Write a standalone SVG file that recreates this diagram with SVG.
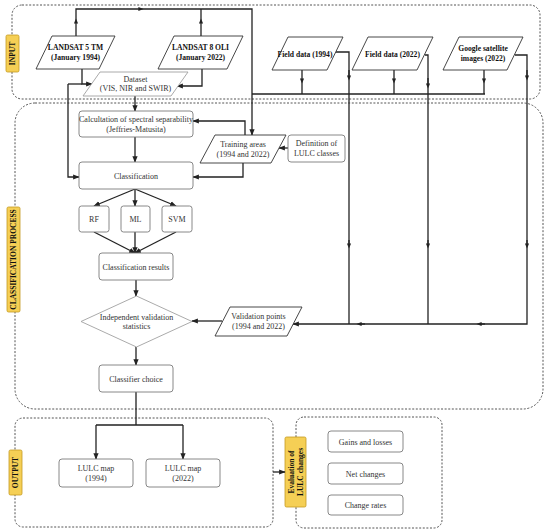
<svg xmlns="http://www.w3.org/2000/svg" width="550" height="532" viewBox="0 0 550 532">
<defs>
<marker id="ah" viewBox="0 0 10 10" refX="9" refY="5" markerWidth="5" markerHeight="5" orient="auto" markerUnits="strokeWidth">
<path d="M0,1 L10,5 L0,9 z" fill="#222"/>
</marker>
<marker id="as" viewBox="0 0 10 10" refX="5" refY="5" markerWidth="4" markerHeight="4" orient="auto" markerUnits="strokeWidth">
<path d="M0,1 L10,5 L0,9 z" fill="#222"/>
</marker>
</defs>
<style>
.cont{fill:none;stroke:#555;stroke-width:1;stroke-dasharray:2,1.6}
.lab{fill:#F5CF55;stroke:#C49A22;stroke-width:0.8}
.labt{font-family:"Liberation Serif","Times New Roman",serif;font-weight:bold;font-size:7.5px;fill:#111;text-anchor:middle}
.box{fill:#fff;stroke:#7a7a7a;stroke-width:0.9}
.lbox{fill:#fff;stroke:#a0a0a0;stroke-width:0.9}
.par{fill:#fff;stroke:#333;stroke-width:0.9;stroke-linejoin:round}
.t{font-family:"Liberation Serif","Times New Roman",serif;font-size:8px;fill:#333;text-anchor:middle}
.tb{font-family:"Liberation Serif","Times New Roman",serif;font-size:7.6px;font-weight:bold;fill:#111;text-anchor:middle}
.c{fill:none;stroke:#222;stroke-width:1.3}
.ca{fill:none;stroke:#222;stroke-width:1.3;marker-end:url(#ah)}
.cm{fill:none;stroke:#222;stroke-width:1.3;marker-end:url(#as)}
</style>

<!-- containers -->
<g id="containers">
<rect class="cont" x="12" y="5" width="528" height="94" rx="10"/>
<rect class="cont" x="15" y="103" width="528" height="306" rx="20"/>
<rect class="cont" x="15" y="418" width="258" height="109" rx="8"/>
<rect class="cont" x="296" y="417" width="146" height="111" rx="8"/>
</g>

<!-- section labels -->
<g id="label-input">
<rect class="lab" x="6" y="35" width="13" height="37" rx="1.5"/>
<text class="labt" transform="translate(15.2,53.5) rotate(-90)">INPUT</text>
</g>
<g id="label-classification">
<rect class="lab" x="7" y="207" width="13" height="105" rx="1.5"/>
<text class="labt" transform="translate(16.2,259.5) rotate(-90)">CLASSIFICATION  PROCESS</text>
</g>
<g id="label-output">
<rect class="lab" x="9" y="450" width="13" height="45" rx="1.5"/>
<text class="labt" transform="translate(18.2,472.5) rotate(-90)">OUTPUT</text>
</g>
<g id="label-evaluation">
<rect class="lab" x="285" y="437" width="21" height="70" rx="1.5"/>
<text class="labt" transform="translate(294,472) rotate(-90)">Evaluation of</text>
<text class="labt" transform="translate(302.5,472) rotate(-90)">LULC changes</text>
</g>

<!-- connectors -->
<g id="connectors">
<path class="cm" d="M76,36 V21"/><path class="c" d="M76,21 V9 H140"/>
<path class="cm" d="M140,9 H141"/>
<path class="c" d="M141,9 H252 V120"/>
<path class="ca" d="M252,120 V135"/>
<path class="cm" d="M201,36 V21"/><path class="c" d="M201,21 V9"/>
<path class="ca" d="M82,69 V84 H92"/>
<path class="c" d="M68,84 H82"/>
<path class="ca" d="M68,84 V177 H79"/>
<path class="ca" d="M202,69 V86 H177"/>
<path class="ca" d="M135,96 V111"/>
<path class="ca" d="M135,137 V162"/>
<path class="ca" d="M245,135 V121 H193"/>
<path class="ca" d="M243,163 V177 H193"/>
<path class="ca" d="M288,148 H279"/>
<path class="ca" d="M135,189 L94,206"/>
<path class="ca" d="M135,189 V206"/>
<path class="ca" d="M135,189 L176,206"/>
<path class="ca" d="M94,232 L135,253"/>
<path class="ca" d="M135,232 V253"/>
<path class="ca" d="M176,232 L135,253"/>
<path class="ca" d="M136,280 V296"/>
<path class="ca" d="M136,347 V365"/>
<path class="ca" d="M222,321 H192"/>
<path class="c" d="M136,392 V425 M96,425 H183"/>
<path class="ca" d="M96,425 V459"/>
<path class="ca" d="M183,425 V459"/>
<path class="c" d="M252,94 H485"/>
<path class="cm" d="M302,70 V81"/><path class="c" d="M302,81 V94"/>
<path class="cm" d="M394,70 V81"/><path class="c" d="M394,81 V94"/>
<path class="cm" d="M484,70 V81"/><path class="c" d="M484,81 V94"/>
<path class="c" d="M336,52 H349 V77"/><path class="cm" d="M349,70 V78"/><path class="c" d="M349,78 V245"/><path class="cm" d="M349,240 V246"/><path class="c" d="M349,246 V324"/>
<path class="c" d="M425,55 H428 V85"/><path class="cm" d="M428,78 V86"/><path class="c" d="M428,86 V245"/><path class="cm" d="M428,240 V246"/><path class="c" d="M428,246 V324"/>
<path class="c" d="M515,55 H527 V77"/><path class="cm" d="M527,70 V78"/><path class="c" d="M527,78 V245"/><path class="cm" d="M527,240 V246"/><path class="c" d="M527,246 V324 H480"/>
<path class="cm" d="M485,324 H479"/>
<path class="c" d="M479,324 H360"/>
<path class="cm" d="M365,324 H359"/>
<path class="ca" d="M359,324 H293"/>
<path class="ca" d="M273,472 H285"/>
</g>

<!-- nodes -->
<g id="landsat5">
<polygon class="par" points="52,36 115,36 99,69 36,69"/>
<text class="tb" x="75.5" y="50">LANDSAT 5 TM</text>
<text class="tb" x="75.5" y="60">(January 1994)</text>
</g>
<g id="landsat8">
<polygon class="par" points="174,36 243,36 227,69 158,69"/>
<text class="tb" x="200.5" y="50">LANDSAT 8 OLI</text>
<text class="tb" x="200.5" y="60">(January 2022)</text>
</g>
<g id="field1994">
<polygon class="par" points="288,37 343,37 327,70 272,70"/>
<text class="tb" x="305" y="56.5" font-size="7.2">Field data (1994)</text>
</g>
<g id="field2022">
<polygon class="par" points="368,37 433,37 417,70 352,70"/>
<text class="tb" x="392.5" y="56.5" font-size="7.2">Field data (2022)</text>
</g>
<g id="google">
<polygon class="par" points="459,37 523,37 507,70 443,70"/>
<text class="tb" x="483" y="51" font-size="7.2">Google  satellite</text>
<text class="tb" x="483" y="61" font-size="7.2">images (2022)</text>
</g>
<g id="dataset">
<polygon class="lbox" stroke-linejoin="round" points="100,72 188,72 171,96 83,96"/>
<text class="t" x="135.5" y="82">Dataset</text>
<text class="t" x="135.5" y="91">(VIS, NIR and SWIR)</text>
</g>
<g id="separability">
<rect class="box" x="79" y="111" width="114" height="26" rx="3"/>
<text class="t" x="136" y="122">Calcultation of spectral separability</text>
<text class="t" x="136" y="131.5">(Jeffries-Matusita)</text>
</g>
<g id="training">
<polygon class="par" stroke="#555" points="215,135 286,135 271,163 200,163"/>
<text class="t" x="243" y="147">Training areas</text>
<text class="t" x="243" y="157">(1994 and 2022)</text>
</g>
<g id="definition">
<rect class="box" x="288" y="135" width="57" height="27" rx="3"/>
<text class="t" x="316.5" y="146">Definition of</text>
<text class="t" x="316.5" y="155.5">LULC classes</text>
</g>
<g id="classification">
<rect class="box" x="79" y="162" width="114" height="27" rx="3"/>
<text class="t" x="136" y="178.5">Classification</text>
</g>
<g id="rf">
<rect class="box" x="79" y="206" width="30" height="26" rx="2.5"/>
<text class="t" x="94" y="222">RF</text>
</g>
<g id="ml">
<rect class="box" x="121" y="206" width="29" height="26" rx="2.5"/>
<text class="t" x="135.5" y="222">ML</text>
</g>
<g id="svm">
<rect class="box" x="162" y="206" width="30" height="26" rx="2.5"/>
<text class="t" x="177" y="222">SVM</text>
</g>
<g id="results">
<rect class="box" x="99" y="253" width="74" height="27" rx="3"/>
<text class="t" x="136" y="269.5">Classification results</text>
</g>
<g id="validation-stats">
<polygon class="lbox" points="136.5,296 192,321.5 136.5,347 81,321.5"/>
<text class="t" x="136.5" y="320">Independent validation</text>
<text class="t" x="136.5" y="329">statistics</text>
</g>
<g id="validation-points">
<polygon class="par" stroke="#555" points="230,307 302,307 287,336 215,336"/>
<text class="t" x="258.5" y="319">Validation points</text>
<text class="t" x="258.5" y="329">(1994 and 2022)</text>
</g>
<g id="classifier-choice">
<rect class="box" x="99" y="365" width="74" height="27" rx="3"/>
<text class="t" x="136" y="381.5">Classifier choice</text>
</g>
<g id="lulc1994">
<rect class="box" x="59" y="459" width="74" height="28" rx="3"/>
<text class="t" x="96" y="471">LULC map</text>
<text class="t" x="96" y="480.5">(1994)</text>
</g>
<g id="lulc2022">
<rect class="box" x="146" y="459" width="74" height="28" rx="3"/>
<text class="t" x="183" y="471">LULC map</text>
<text class="t" x="183" y="480.5">(2022)</text>
</g>
<g id="gains">
<rect class="box" x="328" y="431" width="75" height="21" rx="3"/>
<text class="t" x="365.5" y="444.5">Gains and losses</text>
</g>
<g id="net">
<rect class="box" x="328" y="463" width="75" height="21" rx="3"/>
<text class="t" x="365.5" y="476.5">Net changes</text>
</g>
<g id="rates">
<rect class="box" x="328" y="495" width="75" height="20" rx="3"/>
<text class="t" x="365.5" y="508">Change rates</text>
</g>
</svg>
